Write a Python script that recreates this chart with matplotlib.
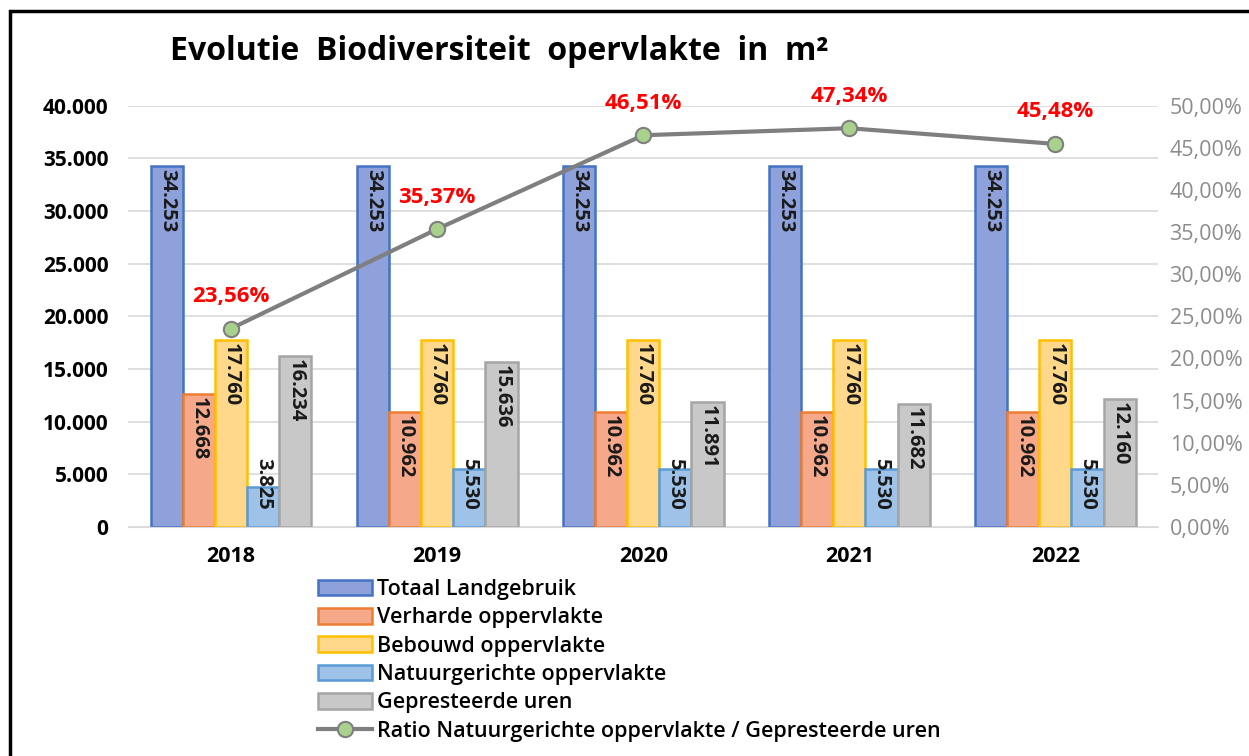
import numpy as np
import matplotlib.pyplot as plt
from matplotlib.patches import Rectangle, Patch
from matplotlib.ticker import FuncFormatter

plt.rcParams['font.family'] = ['Open Sans', 'DejaVu Sans']

years = ["2018", "2019", "2020", "2021", "2022"]
totaal = [34253, 34253, 34253, 34253, 34253]
verhard = [12668, 10962, 10962, 10962, 10962]
bebouwd = [17760, 17760, 17760, 17760, 17760]
natuur = [3825, 5530, 5530, 5530, 5530]
uren = [16234, 15636, 11891, 11682, 12160]
ratio = [23.56, 35.37, 46.51, 47.34, 45.48]

series_names = ["Totaal Landgebruik", "Verharde oppervlakte", "Bebouwd oppervlakte",
                "Natuurgerichte oppervlakte", "Gepresteerde uren"]
line_name = "Ratio Natuurgerichte oppervlakte / Gepresteerde uren"

fills = ["#8ea1da", "#f5a98a", "#ffd88c", "#9fc3e8", "#c8c8c8"]
edges = ["#4472c4", "#ed7d31", "#ffc000", "#5b9bd5", "#a5a5a5"]


def nl_thousands(v, pos=None):
    return f"{int(round(v)):,}".replace(",", ".")


def nl_pct(v, pos=None):
    return f"{v:.2f}%".replace(".", ",")


fig = plt.figure(figsize=(12.49, 7.56), dpi=100)
ax = fig.add_axes([0.1025, 0.303, 0.825, 0.557])
ax2 = ax.twinx()

x = np.arange(len(years))
w = 0.156
all_series = [totaal, verhard, bebouwd, natuur, uren]

for i, vals in enumerate(all_series):
    bars = ax.bar(x + (i - 2) * w, vals, w, color=fills[i], edgecolor=edges[i],
                  linewidth=1.8, zorder=2)
    for b, v in zip(bars, vals):
        # label inside the bar top, pushed up when the bar is too short
        ytop = max(v - 300, 6550)
        ax.text(b.get_x() + b.get_width() / 2, ytop, nl_thousands(v), rotation=-90,
                ha="center", va="top", fontsize=14.5, fontweight="bold",
                color="#1a1a1a", zorder=3)

ax.set_xlim(-0.5, len(years) - 0.5)
ax.set_ylim(0, 40000)
ax.set_yticks(np.arange(0, 40001, 5000))
ax.yaxis.set_major_formatter(FuncFormatter(nl_thousands))
ax.set_xticks(x)
ax.set_xticklabels(years, fontweight="bold", fontsize=15.5)
ax.tick_params(axis="x", length=0, pad=14)
ax.tick_params(axis="y", length=0, pad=14, labelsize=15)
for t in ax.get_yticklabels():
    t.set_fontweight("bold")
ax.grid(axis="y", color="#d9d9d9", linewidth=1.2, zorder=0)
ax.set_axisbelow(True)
for s in ax.spines.values():
    s.set_visible(False)
ax.spines["bottom"].set_visible(True)
ax.spines["bottom"].set_color("#d9d9d9")

ax2.set_ylim(0, 50)
ax2.set_yticks(np.arange(0, 50.1, 5))
ax2.yaxis.set_major_formatter(FuncFormatter(nl_pct))
ax2.tick_params(axis="y", length=0, pad=8, labelsize=15.5, labelcolor="#8c8c8c")
for s in ax2.spines.values():
    s.set_visible(False)
ln, = ax2.plot(x, ratio, color="#7f7f7f", linewidth=3, marker="o",
               markersize=11, markerfacecolor="#a9d18e", markeredgecolor="#7f7f7f",
               markeredgewidth=1.5, zorder=5)
for xi, r in zip(x, ratio):
    ax2.annotate(nl_pct(r), (xi, r), xytext=(0, 23), textcoords="offset points",
                 ha="center", va="center", color="#ff0000", fontweight="bold",
                 fontsize=16)

handles = [Patch(facecolor=f, edgecolor=e, linewidth=1.8) for f, e in zip(fills, edges)]
handles.append(ln)
labels = series_names + [line_name]
leg = fig.legend(handles, labels, loc="upper left", bbox_to_anchor=(0.2546, 0.234),
                 frameon=False, fontsize=15.5, handlelength=2.5, handleheight=0.75,
                 handletextpad=0.25, labelspacing=0.34, borderpad=0, borderaxespad=0)
for t in leg.get_texts():
    t.set_fontweight("semibold")

fig.text(0.40, 0.932, "Evolutie  Biodiversiteit  opervlakte  in  m²", ha="center",
         va="center", fontsize=23, fontweight="bold")

fig.patches.append(Rectangle((0.008, -0.1), 1.2, 1.085, transform=fig.transFigure,
                             fill=False, edgecolor="black", linewidth=2.5))

fig.savefig("out.png", dpi=100)
